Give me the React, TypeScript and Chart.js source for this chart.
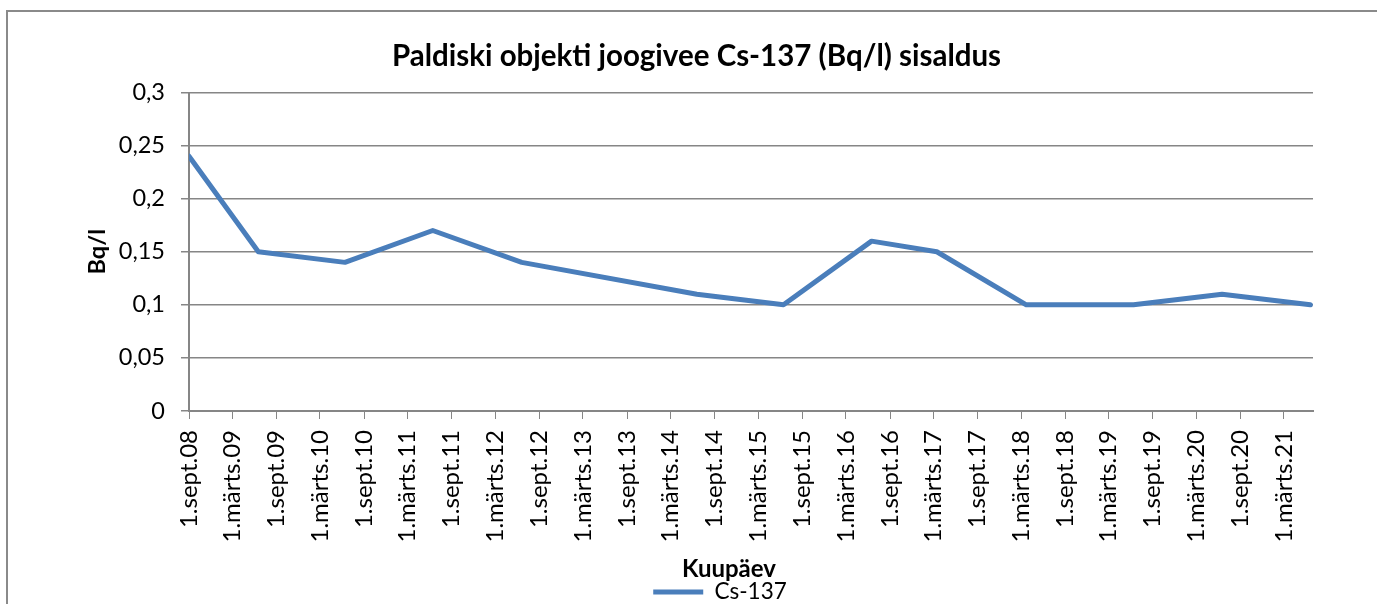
import React, { useEffect, useRef } from "react";
import { Chart, registerables } from "chart.js";

Chart.register(...registerables);

// ---- Data ----
const chartTitle = "Paldiski objekti joogivee Cs-137 (Bq/l) sisaldus";
const seriesName = "Cs-137";
const yAxisTitle = "Bq/l";
const xAxisTitle = "Kuupäev";

const sampleDates = [
  "2008-09-01",
  "2009-06-17",
  "2010-06-13",
  "2011-06-14",
  "2012-06-19",
  "2014-06-19",
  "2015-06-15",
  "2016-06-16",
  "2017-03-15",
  "2018-03-23",
  "2019-06-13",
  "2020-06-16",
  "2021-06-19",
];
const cs137Values = [0.24, 0.15, 0.14, 0.17, 0.14, 0.11, 0.1, 0.16, 0.15, 0.1, 0.1, 0.11, 0.1];

const tickDates = [
  "2008-09-01", "2009-03-01", "2009-09-01", "2010-03-01", "2010-09-01",
  "2011-03-01", "2011-09-01", "2012-03-01", "2012-09-01", "2013-03-01",
  "2013-09-01", "2014-03-01", "2014-09-01", "2015-03-01", "2015-09-01",
  "2016-03-01", "2016-09-01", "2017-03-01", "2017-09-01", "2018-03-01",
  "2018-09-01", "2019-03-01", "2019-09-01", "2020-03-01", "2020-09-01",
  "2021-03-01",
];
const tickLabels = [
  "1.sept.08", "1.märts.09", "1.sept.09", "1.märts.10", "1.sept.10",
  "1.märts.11", "1.sept.11", "1.märts.12", "1.sept.12", "1.märts.13",
  "1.sept.13", "1.märts.14", "1.sept.14", "1.märts.15", "1.sept.15",
  "1.märts.16", "1.sept.16", "1.märts.17", "1.sept.17", "1.märts.18",
  "1.sept.18", "1.märts.19", "1.sept.19", "1.märts.20", "1.sept.20",
  "1.märts.21",
];
const xMinDate = "2008-09-01";
const xMaxDate = "2021-06-30";

const yMin = 0;
const yMax = 0.3;
const yStep = 0.05;

const toDay = (s: string) => Math.round(Date.parse(s + "T00:00:00Z") / 86400000);

const FONT = "Lato, 'Open Sans', sans-serif";
const GRID = "#868686";
const LINE = "#4A7EBB";

// font size that gives a string a given width (to mimic the reference's Calibri metrics)
function fitSize(text: string, weight: string, target: number) {
  const c = document.createElement("canvas").getContext("2d")!;
  c.font = `${weight} 100px ${FONT}`;
  const w = c.measureText(text).width || 1;
  return Math.round((100 * target) / w * 2) / 2;
}

const frame = {
  id: "frame",
  beforeDraw(chart: any) {
    const ctx = chart.ctx;
    ctx.save();
    ctx.fillStyle = "#ffffff";
    ctx.fillRect(0, 0, chart.width, chart.height);
    ctx.strokeStyle = "#8a8a8a";
    ctx.lineWidth = 2;
    ctx.strokeRect(7, 11, chart.width + 50, chart.height + 50);
    ctx.restore();
  },
};

// horizontal centres of the title, the x-axis caption and the legend as in the reference
const TITLE_CX = 696.5;
const XCAP_CX = 729;
const LEGEND_CX = 720;

const centreBoxes = {
  id: "centreBoxes",
  afterLayout(chart: any) {
    const shift = (box: any, cx: number) => {
      if (!box) return;
      const dx = cx - (box.left + box.right) / 2;
      box.left += dx;
      box.right += dx;
    };
    shift(chart.titleBlock, TITLE_CX);
    shift(chart.legend, LEGEND_CX);
    const sub = chart.boxes.find(
      (b: any) => b !== chart.titleBlock && b.options && b.options.text === xAxisTitle
    );
    shift(sub, XCAP_CX);
  },
};

export default function App() {
  const ref = useRef<HTMLCanvasElement>(null);

  useEffect(() => {
    if (!ref.current) return;
    const points = sampleDates.map((d, i) => ({ x: toDay(d), y: cs137Values[i] }));
    const tickDays = tickDates.map(toDay);

    const fTitle = fitSize(chartTitle, "bold", 613);
    const fX = fitSize("1.märts.09", "normal", 112);
    const fY = fitSize("0,05", "normal", 46.5);
    const fLeg = fitSize(seriesName, "normal", 72);
    const fXCap = fitSize(xAxisTitle, "bold", 94);
    const fYCap = fitSize(yAxisTitle, "bold", 45);

    // vertical layout targets (px)
    const titleMid = 56;
    const plotTop = 92.5;
    const plotBottom = 411;
    const xCapMid = 569;
    const legendMid = 592;
    const legPad = 2;
    const legendTop = legendMid - legPad - fLeg / 2;
    const legendBottom = legendTop + fLeg + legPad + 10;
    const xCapPadB = legendTop - xCapMid - 0.6 * fXCap;
    const xCapTop = legendTop - 1.2 * fXCap - xCapPadB;

    const chart = new Chart(ref.current, {
      type: "line",
      data: {
        datasets: [
          {
            label: seriesName,
            data: points,
            borderColor: LINE,
            backgroundColor: LINE,
            borderWidth: 5,
            pointRadius: 0,
            pointStyle: "line",
            tension: 0,
            borderCapStyle: "round",
            borderJoinStyle: "round",
          },
        ],
      },
      options: {
        responsive: false,
        animation: false,
        layout: { padding: { left: 0, right: 64, top: 0, bottom: 604 - legendBottom } },
        plugins: {
          tooltip: { enabled: false },
          title: {
            display: true,
            text: chartTitle,
            color: "#000",
            font: { family: FONT, size: fTitle, weight: "bold" },
            padding: { top: titleMid - 0.6 * fTitle, bottom: plotTop - titleMid - 0.6 * fTitle },
          },
          subtitle: {
            display: true,
            position: "bottom",
            weight: 500,
            text: xAxisTitle,
            color: "#000",
            font: { family: FONT, size: fXCap, weight: "bold" },
            padding: { top: 0, bottom: xCapPadB },
          },
          legend: {
            display: true,
            position: "bottom",
            weight: 1000,
            labels: {
              usePointStyle: true,
              pointStyle: "line",
              pointStyleWidth: 50,
              boxHeight: fLeg,
              padding: legPad,
              color: "#000",
              font: { family: FONT, size: fLeg },
            },
          },
        },
        scales: {
          x: {
            type: "linear",
            min: toDay(xMinDate),
            max: toDay(xMaxDate),
            afterBuildTicks: (scale: any) => {
              scale.ticks = tickDays.map((v) => ({ value: v }));
            },
            afterFit: (scale: any) => {
              scale.height = xCapTop - plotBottom;
            },
            ticks: {
              autoSkip: false,
              minRotation: 90,
              maxRotation: 90,
              padding: 11,
              color: "#000",
              font: { family: FONT, size: fX },
              callback: (value: any) => {
                const i = tickDays.indexOf(value);
                return i >= 0 ? tickLabels[i] : "";
              },
            },
            grid: {
              display: true,
              drawOnChartArea: false,
              drawTicks: true,
              tickLength: 8,
              color: GRID,
              lineWidth: 1,
            },
            border: { display: true, color: GRID, width: 2 },
          },
          y: {
            min: yMin,
            max: yMax,
            afterFit: (scale: any) => {
              scale.width = 189;
            },
            ticks: {
              stepSize: yStep,
              padding: 16,
              color: "#000",
              font: { family: FONT, size: fY },
              callback: (value: any) => String(Math.round(value * 100) / 100).replace(".", ","),
            },
            grid: {
              color: GRID,
              lineWidth: 1.5,
              tickLength: 8,
              drawTicks: true,
            },
            border: { display: true, color: GRID, width: 2 },
            title: {
              display: true,
              text: yAxisTitle,
              color: "#000",
              font: { family: FONT, size: fYCap, weight: "bold" },
              padding: { top: 97 - 0.6 * fYCap, bottom: 0 },
            },
          },
        },
      },
      plugins: [frame, centreBoxes],
    });
    return () => chart.destroy();
  }, []);

  return (
    <div style={{ position: "absolute", left: 0, top: 0, width: 1377, height: 604, overflow: "hidden" }}>
      <canvas ref={ref} width={1377} height={604} style={{ display: "block", width: 1377, height: 604 }} />
    </div>
  );
}
